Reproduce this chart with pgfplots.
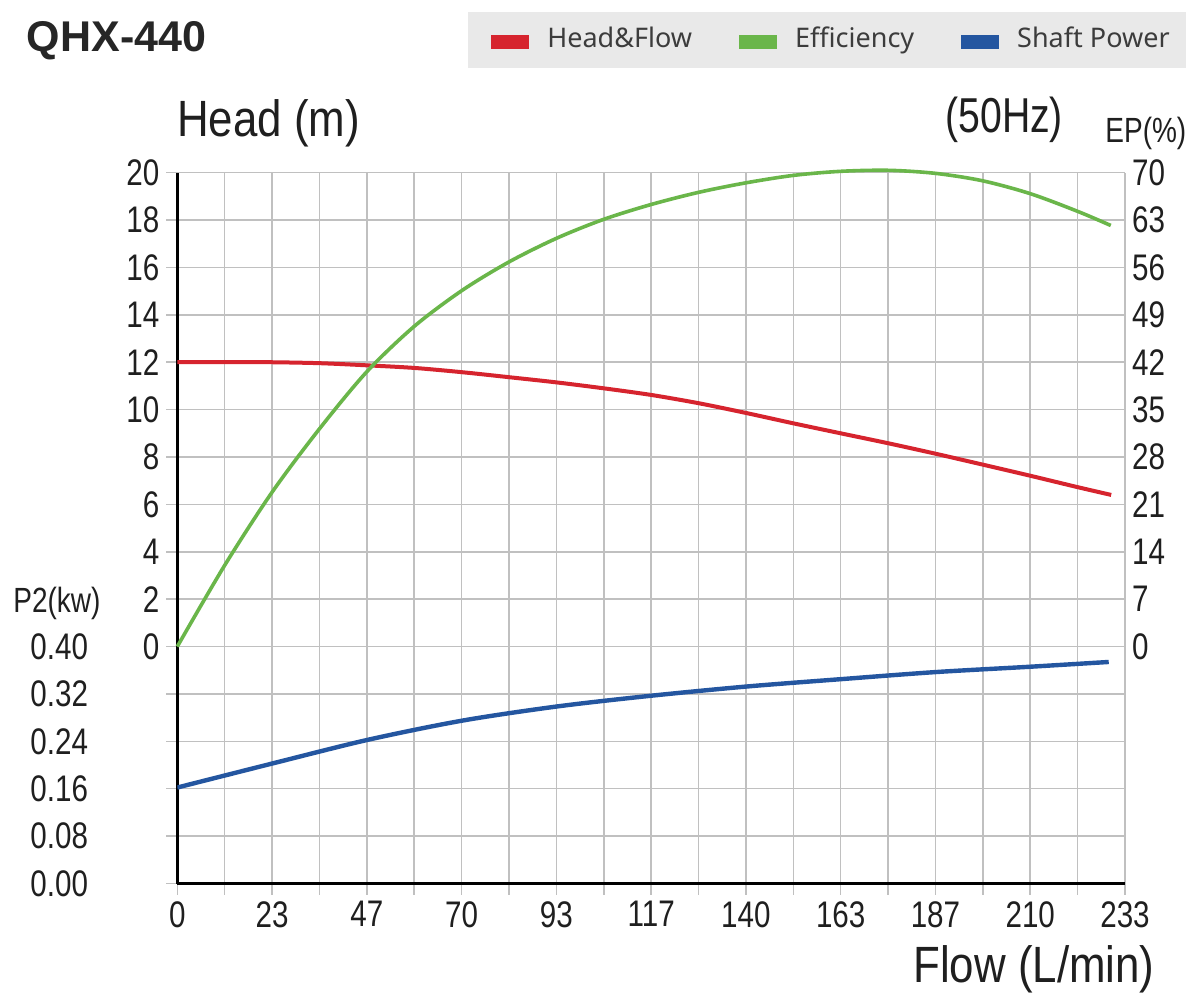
\documentclass[border=0pt]{standalone}
\usepackage{fontspec}
\setmainfont{Noto Sans}
\newfontfamily\cond[FakeStretch=0.8]{Liberation Sans}
\newfontfamily\condwide[FakeStretch=0.86]{Liberation Sans}
\newfontfamily\titlefont{Liberation Sans}
\usepackage{pgfplots}
\usepackage{pgfplotstable}
\pgfplotsset{compat=1.18}

\definecolor{headred}{RGB}{214,36,46}
\definecolor{effgreen}{RGB}{106,182,74}
\definecolor{powblue}{RGB}{36,86,160}
\definecolor{gridgray}{RGB}{192,192,192}
\definecolor{legendbg}{RGB}{233,233,233}
\definecolor{legendtext}{RGB}{60,60,60}

\pgfplotstableread{
Q H
0 12.00
11.65 12.01
23.3 12.00
35 11.96
46.6 11.87
58.25 11.76
70 11.58
81.5 11.37
93.2 11.15
104.8 10.90
116.5 10.62
128.2 10.27
139.8 9.86
151.5 9.42
163.1 9.00
174.8 8.58
186.4 8.14
198 7.68
209.7 7.21
221.3 6.73
229.6 6.40
}\headtable

\pgfplotstableread{
Q E
0 0
11.65 12.0
23.3 22.8
35 32.2
46.6 40.6
58.25 47.3
70 52.6
81.5 56.8
93.2 60.3
104.8 63.1
116.5 65.3
128.2 67.1
139.8 68.5
151.5 69.6
163.1 70.2
174.8 70.35
186.4 69.9
198 68.8
209.7 66.9
221.3 64.3
229.5 62.2
}\efftable

\pgfplotstableread{
Q P
0 0.162
23.6 0.203
46.8 0.2425
70.1 0.275
93.5 0.299
116.5 0.317
139.9 0.3325
163.2 0.345
186.6 0.357
209.8 0.366
229 0.374
}\powtable

\pgfplotsset{
  common/.style={
    at={(88.65bp,58.25bp)}, anchor=south west,
    scale only axis, width=473.85bp, height=355.4bp,
    xmin=0, xmax=233,
    /pgf/number format/assume math mode=true,
    ticklabel style={font=\cond\fontsize{18.5bp}{20bp}\selectfont, text=black!88},
  }
}

\begin{document}
\begin{tikzpicture}
\useasboundingbox (0,0) rectangle (601.5bp,500bp);
\fill[white] (0,0) rectangle (601.5bp,500bp);

% title and free labels
\node[anchor=base west, inner sep=0, font=\titlefont\bfseries\fontsize{21.5bp}{24bp}\selectfont, text=black!85] at (13.3bp,474.2bp) {QHX-440};
\node[anchor=base west, inner sep=0, font=\condwide\fontsize{25.5bp}{28bp}\selectfont, text=black!88] at (88.4bp,431.7bp) {Head (m)};
\node[anchor=base west, inner sep=0, font=\cond\fontsize{24.5bp}{28bp}\selectfont, text=black!88] at (472.5bp,433.5bp) {(50Hz)};
\node[anchor=base west, inner sep=0, font=\cond\fontsize{17.5bp}{20bp}\selectfont, text=black!88] at (552.5bp,428.5bp) {EP(\%)};
\node[anchor=base west, inner sep=0, font=\cond\fontsize{17.5bp}{20bp}\selectfont, text=black!88] at (6.5bp,193.5bp) {P2(kw)};
\node[anchor=base east, inner sep=0, font=\condwide\fontsize{25.5bp}{28bp}\selectfont, text=black!88] at (577.5bp,9bp) {Flow (L/min)};

% main axis: grid, head
\begin{axis}[common,
  ymin=-10, ymax=20,
  xtick={0,23.3,46.6,69.9,93.2,116.5,139.8,163.1,186.4,209.7,233},
  xticklabels={0,23,47,70,93,117,140,163,187,210,233},
  minor xtick={11.65,34.95,58.25,81.55,104.85,128.15,151.45,174.75,198.05,221.35},
  ytick={-10,-8,...,20},
  yticklabels={,,,,,0,2,4,6,8,10,12,14,16,18,20},
  grid=both,
  grid style={gridgray, line width=0.75bp},
  minor grid style={gridgray, line width=0.75bp},
  major grid style={gridgray, line width=0.75bp},
  tick align=outside, tick pos=left,
  major tick length=5.5bp, minor tick length=5.5bp,
  tick style={gridgray, line width=0.75bp},
  minor tick style={gridgray, line width=0.75bp},
  axis x line*=bottom, axis y line*=left,
  x axis line style={black, line width=1.6bp, -},
  y axis line style={black, line width=1.3bp, -},
  yticklabel style={anchor=east},
]
\addplot[headred, line width=2bp, smooth] table[x=Q, y=H] {\headtable};
\draw[black, line width=1.6bp] (axis cs:0,-10) -- ++(-5.5bp,0);
\draw[black, line width=1.3bp] (axis cs:0,-10) -- ++(0,-4.5bp);
\end{axis}

% shaft power axis
\begin{axis}[common,
  ymin=0, ymax=1.2,
  hide x axis,
  axis y line*=left,
  y axis line style={draw=none},
  ytick={0,0.08,0.16,0.24,0.32,0.4},
  yticklabels={0.00,0.08,0.16,0.24,0.32,0.40},
  major tick length=0pt,
  yticklabel style={anchor=center, xshift=-59bp},
]
\addplot[powblue, line width=2.2bp, smooth] table[x=Q, y=P] {\powtable};
\end{axis}

% efficiency axis
\begin{axis}[common,
  ymin=-35, ymax=70,
  clip=false,
  hide x axis,
  axis y line*=right,
  y axis line style={draw=none},
  ytick={0,7,...,70},
  major tick length=0pt,
  yticklabel style={anchor=west},
  legend columns=3,
  legend style={at={(0.3067,1.2261)}, anchor=north west, draw=none, fill=legendbg,
    font=\fontsize{13.5bp}{15bp}\selectfont, text=legendtext,
    inner xsep=8bp, inner ysep=7.5bp,
    nodes={inner sep=0pt, text height=10bp, text depth=3bp},
    /tikz/every odd column/.append style={column sep=5.5bp},
    /tikz/every even column/.append style={column sep=20bp}},
  legend image code/.code={\draw[#1, line width=7bp] (0bp,-1bp) -- (19bp,-1bp);},
]
\addlegendimage{headred, line width=2bp}
\addlegendentry{Head\&Flow}
\addplot[effgreen, line width=1.8bp, smooth] table[x=Q, y=E] {\efftable};
\addlegendentry{Efficiency}
\addlegendimage{powblue, line width=2.2bp}
\addlegendentry{Shaft Power}
\end{axis}
\end{tikzpicture}
\end{document}
